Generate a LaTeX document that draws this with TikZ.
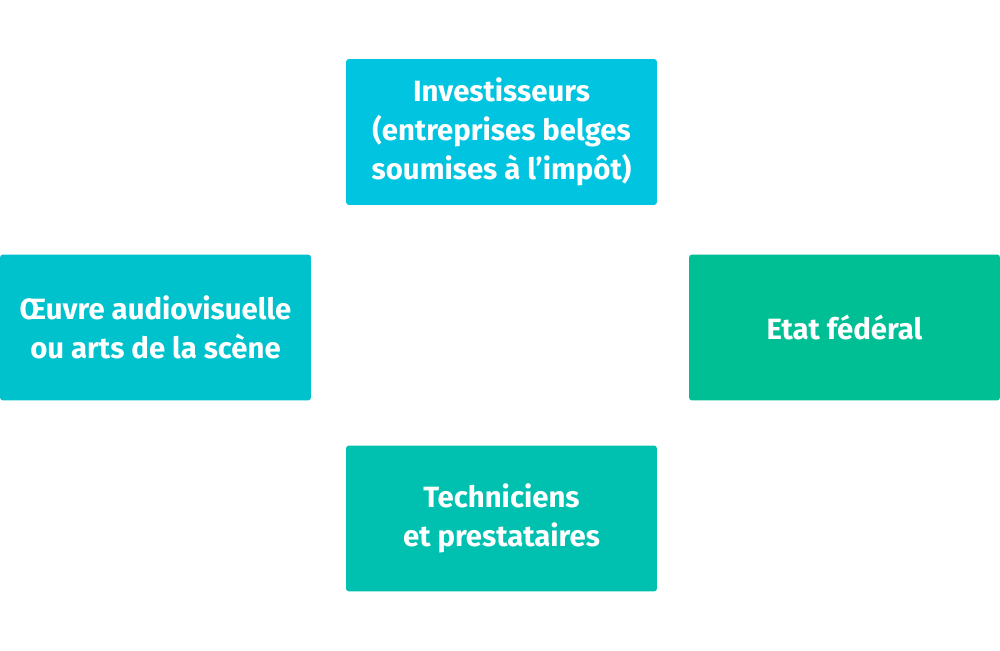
\documentclass[tikz,border=0pt]{standalone}
\usepackage{fontspec}
\setmainfont{Fira Sans}
\usepackage{tikz}
\usetikzlibrary{positioning}

\definecolor{cyanbox}{HTML}{00C4E0}
\definecolor{tealbox}{HTML}{00C2CC}
\definecolor{greenbox}{HTML}{00BF94}
\definecolor{mintbox}{HTML}{00C1B0}

\begin{document}
\begin{tikzpicture}[x=0.02cm, y=-0.02cm,
    actor/.style={rectangle, rounded corners=0.06cm, minimum width=6.22cm,
      minimum height=2.92cm, text=white, align=center, inner sep=0pt,
      font=\fontsize{16.7}{22}\selectfont\bfseries}]
  % page frame
  \useasboundingbox (0,0) rectangle (1000,651);
  \node[actor, fill=cyanbox] (invest) at (501.5,132) {Investisseurs\\(entreprises belges\\soumises à l’impôt)};
  \node[actor, fill=tealbox] (oeuvre) at (155.5,327.5) {Œuvre audiovisuelle\\ou arts de la scène};
  \node[actor, fill=greenbox] (etat) at (844.5,327.5) {Etat fédéral};
  \node[actor, fill=mintbox] (techn) at (501.5,518.5) {Techniciens\\et prestataires};
\end{tikzpicture}
\end{document}
